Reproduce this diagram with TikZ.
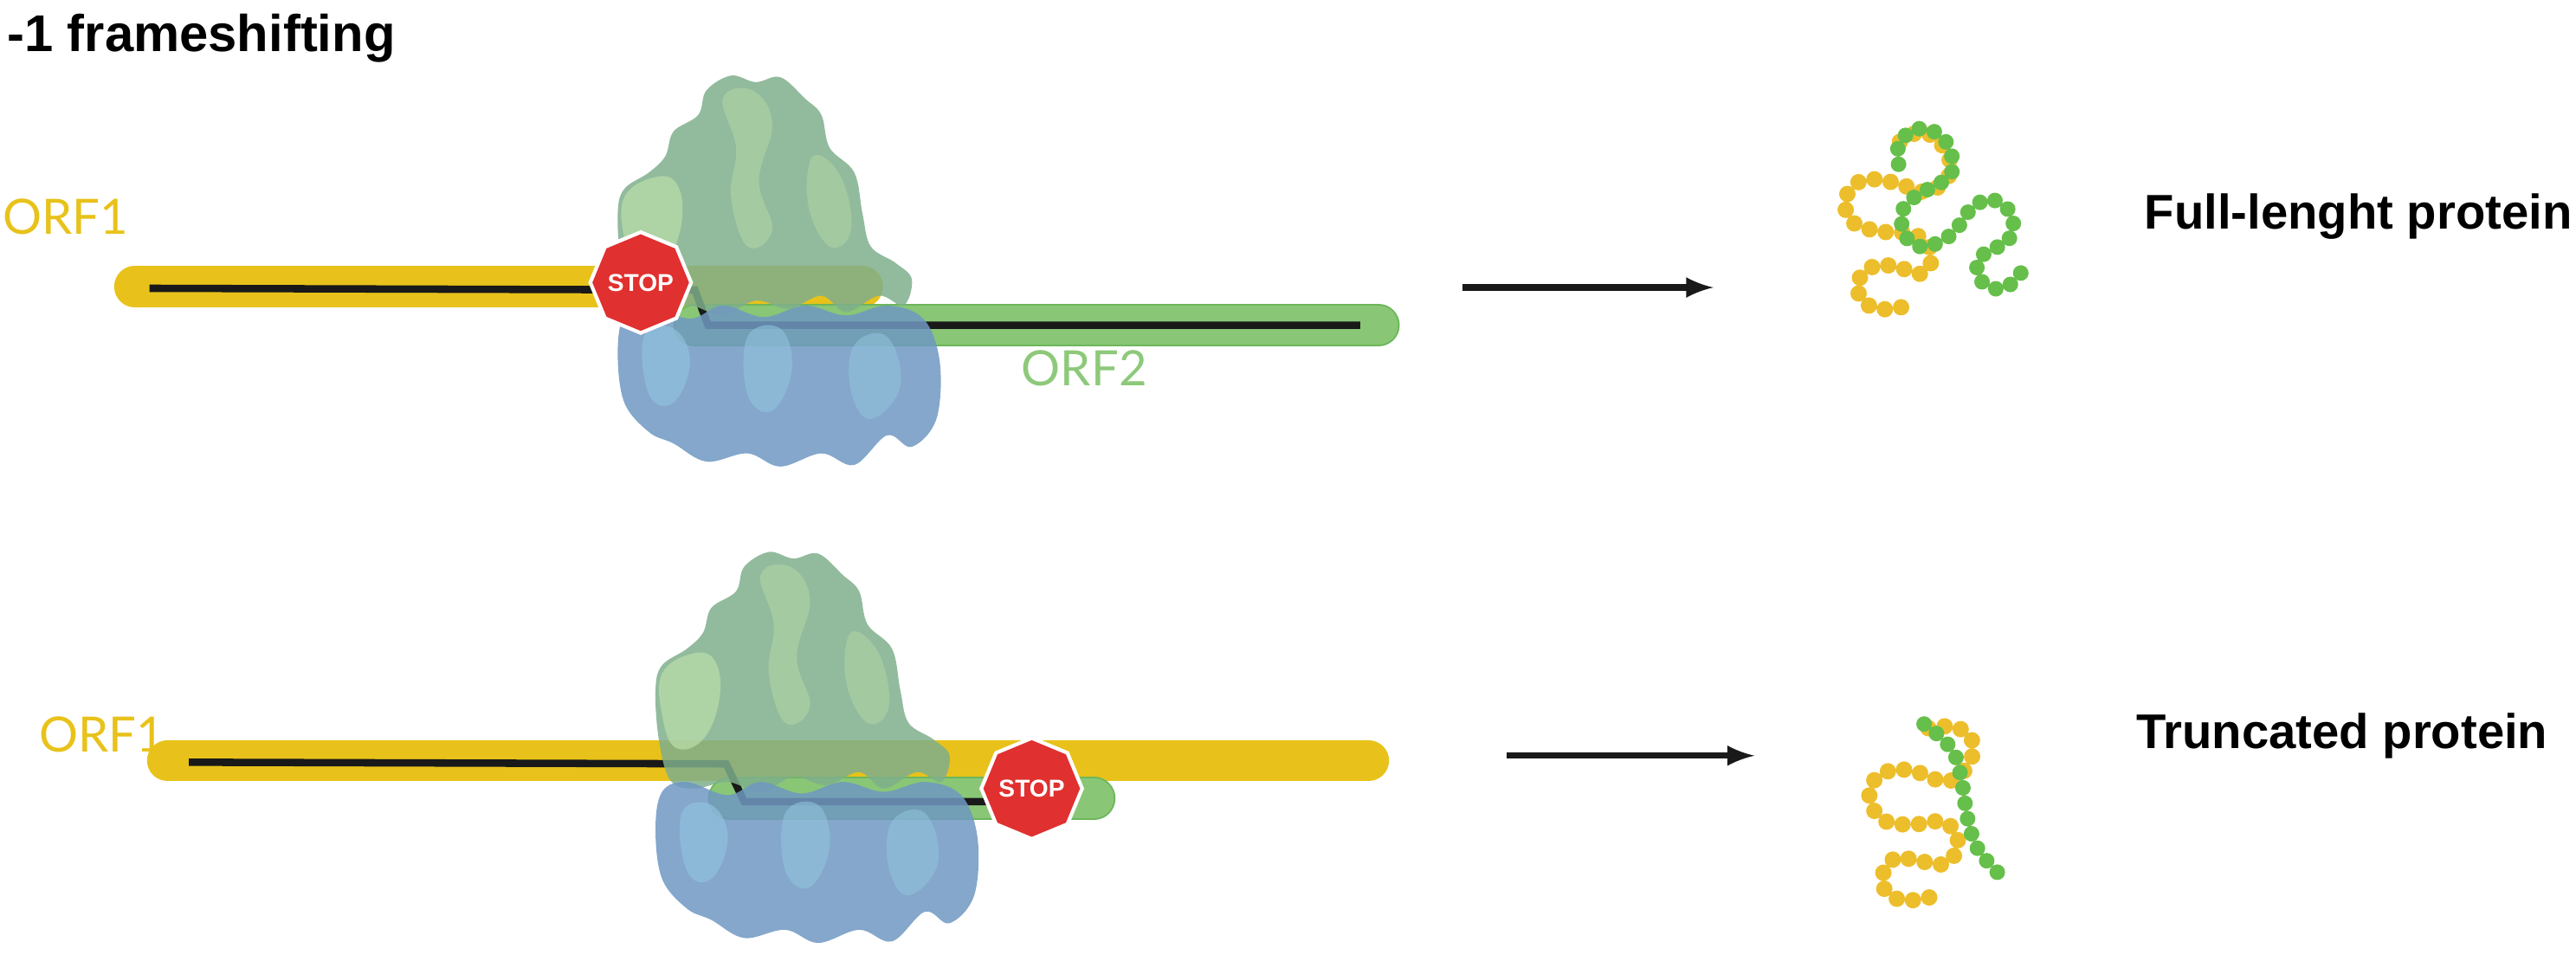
\documentclass[tikz,border=0pt]{standalone}
\usepackage{fontspec}
\setmainfont{Liberation Sans}
\newfontfamily\lightfont{Lato}
\usetikzlibrary{shapes.geometric}
\definecolor{orfy}{HTML}{E8C21A}
\definecolor{orfg}{HTML}{8DC97A}
\definecolor{orfgd}{HTML}{6DB65B}
\definecolor{riboG}{HTML}{7FAF8C}
\definecolor{riboGl}{HTML}{B8DBA8}
\definecolor{riboB}{HTML}{6F98C2}
\definecolor{riboBl}{HTML}{93C7E0}
\definecolor{stopred}{HTML}{E0302F}
\definecolor{beadY}{HTML}{EDBE2C}
\definecolor{beadG}{HTML}{66BF4A}
\tikzset{
  ybar/.style={orfy, line width=25*0.018973cm, line cap=round},
  gbar/.style={orfg, draw opacity=0.9, line width=24*0.018973cm, line cap=round},
  gbarEdge/.style={orfgd, line width=26*0.018973cm, line cap=round},
  mrna/.style={black!90, line width=4.5*0.018973cm, line join=miter},
  orflabel/.style={font=\lightfont\fontsize{16}{18}\selectfont, inner sep=0pt},
  stopsign/.style={regular polygon, regular polygon sides=8, shape border rotate=22.5,
    minimum size=52*0.018973cm, fill=stopred, draw=white, line width=1.2pt,
    text=white, inner sep=0pt, font=\bfseries\fontsize{8}{9}\selectfont},
  stopring/.style={regular polygon, regular polygon sides=8, shape border rotate=22.5,
    minimum size=55*0.018973cm, draw=stopred!80, line width=0.5pt, inner sep=0pt},
  flow/.style={-latex, line width=3.8*0.018973cm, black!90},
  result/.style={font=\bfseries\fontsize{16}{18}\selectfont, anchor=west, inner sep=0pt},
  beadsY/.style={beadY, line width=10*0.018973cm, line cap=round, dash pattern=on 0pt off 10*0.018973cm},
  beadsG/.style={beadG, line width=9.5*0.018973cm, line cap=round, dash pattern=on 0pt off 9.5*0.018973cm},
  ribo/.pic={
    \fill[riboG, opacity=0.85] plot[smooth cycle, tension=0.6] coordinates {
      (385,185) (378,160) (376,130) (380,115) (395,105) (405,95) (410,80) (425,70) (430,55)
      (445,46) (460,50) (475,47) (490,60) (500,70) (505,90) (520,105) (525,130) (530,150)
      (545,160) (555,170) (550,186) (535,180) (515,190) (500,180) (480,188) (460,183) (440,192) (420,186) (400,190)};
    \fill[riboGl, opacity=0.75] plot[smooth cycle, tension=0.7] coordinates {
      (380,120) (398,108) (412,112) (415,135) (405,160) (388,165) (380,145)};
    \fill[riboGl, opacity=0.5] plot[smooth cycle, tension=0.7] coordinates {
      (440,60) (458,55) (470,75) (462,110) (470,140) (455,150) (445,120) (448,90)};
    \fill[riboGl, opacity=0.45] plot[smooth cycle, tension=0.7] coordinates {
      (495,95) (512,108) (518,140) (505,150) (492,125)};
    \fill[riboB, opacity=0.85] plot[smooth cycle, tension=0.6] coordinates {
      (380,192) (395,186) (420,194) (440,186) (465,193) (490,186) (515,192) (540,186) (562,194)
      (572,220) (570,255) (555,272) (540,265) (520,283) (500,276) (475,284) (455,276)
      (430,281) (410,270) (395,263) (380,245) (376,215)};
    \fill[riboBl, opacity=0.6] plot[smooth cycle, tension=0.7] coordinates {
      (392,205) (410,200) (420,220) (410,245) (395,240)};
    \fill[riboBl, opacity=0.55] plot[smooth cycle, tension=0.7] coordinates {
      (455,205) (475,200) (482,225) (470,250) (455,240)};
    \fill[riboBl, opacity=0.5] plot[smooth cycle, tension=0.7] coordinates {
      (520,210) (540,205) (548,235) (530,255) (518,238)};
  }
}
\begin{document}
\begin{tikzpicture}[x=0.018973cm, y=-0.018973cm]
\useasboundingbox (0,0) rectangle (1568,581);
% title
\node[anchor=north west, inner sep=0pt, font=\bfseries\fontsize{17}{19}\selectfont] (title) at (4,8) {-1 frameshifting};

%%% TOP
\node[orflabel, text=orfy] (orf1a) at (40,132) {ORF1};
\coordinate (ya1) at (82,174.5); \coordinate (ya2) at (525,174.5);
\draw[ybar] (ya1) -- (ya2);
\coordinate (ga1) at (423,198); \coordinate (ga2) at (839,198);
\draw[gbarEdge] (ga1) -- (ga2);
\draw[gbar] (ga1) -- (ga2);
\coordinate (ma1) at (91,175.5); \coordinate (ma2) at (423,176.5);
\coordinate (ma3) at (431,198); \coordinate (ma4) at (828,198);
\draw[mrna] (ma1) -- (ma2) -- (ma3) -- (ma4);
\pic at (0,0) {ribo};
\node[stopring] at (390,172) {};
\node[stopsign] (stopa) at (390,172) {STOP};
\node[orflabel, text=orfg] (orf2) at (660,224) {ORF2};
\coordinate (aa1) at (890,175); \coordinate (aa2) at (1043,175);
\draw[flow] (aa1) -- (aa2);
\node[result] (full) at (1305,132) {Full-lenght protein};
% protein top
\begin{scope}[shift={(1081,0)}, xscale=1/3.216, yscale=1/2.7]
\draw[beadsY] plot[smooth, tension=0.6] coordinates {
 (245,505) (205,508) (170,495) (160,465) (185,440) (230,437) (285,450) (305,425) (292,395)
 (255,383) (200,380) (150,365) (135,330) (160,300) (200,295) (250,305) (290,315) (330,300)
 (342,270) (322,235) (290,218) (255,225) (235,240)};
\draw[beadsG] plot[smooth, tension=0.6] coordinates {
 (240,270) (240,240) (265,215) (300,213) (330,230) (345,260) (340,290) (300,310) (262,330)
 (245,355) (255,390) (280,405) (315,400) (350,380) (380,345) (415,328) (450,340) (465,370)
 (450,400) (420,410) (395,430) (400,460) (435,475) (470,460) (490,430)};
\end{scope}

%%% BOTTOM
\node[orflabel, text=orfy] (orf1b) at (62,447) {ORF1};
\coordinate (yb1) at (102,463); \coordinate (yb2) at (833,463);
\draw[ybar] (yb1) -- (yb2);
\coordinate (gb1) at (444,486); \coordinate (gb2) at (666,486);
\draw[gbarEdge] (gb1) -- (gb2);
\draw[gbar] (gb1) -- (gb2);
\coordinate (mb1) at (115,464); \coordinate (mb2) at (442,465);
\coordinate (mb3) at (453,488); \coordinate (mb4) at (620,488);
\draw[mrna] (mb1) -- (mb2) -- (mb3) -- (mb4);
\pic at (23,290) {ribo};
\node[stopring] at (628,480) {};
\node[stopsign] (stopb) at (628,480) {STOP};
\coordinate (ab1) at (917,460); \coordinate (ab2) at (1068,460);
\draw[flow] (ab1) -- (ab2);
\node[result] (trunc) at (1300,448) {Truncated protein};
% protein bottom
\begin{scope}[shift={(1081,0)}, xscale=1/3.216, yscale=1/2.7]
\draw[beadsY] plot[smooth, tension=0.6] coordinates {
 (300,1475) (250,1480) (215,1465) (210,1435) (235,1410) (280,1415) (330,1420) (355,1395)
 (350,1365) (320,1350) (270,1355) (215,1350) (185,1320) (190,1285) (230,1265) (280,1270)
 (330,1285) (365,1270) (385,1240) (380,1210) (350,1195) (310,1195) (285,1200)};
\draw[beadsG] plot[smooth, tension=0.6] coordinates {
 (290,1190) (320,1210) (350,1240) (365,1290) (375,1345) (395,1395) (435,1435)};
\end{scope}
\end{tikzpicture}
\end{document}
